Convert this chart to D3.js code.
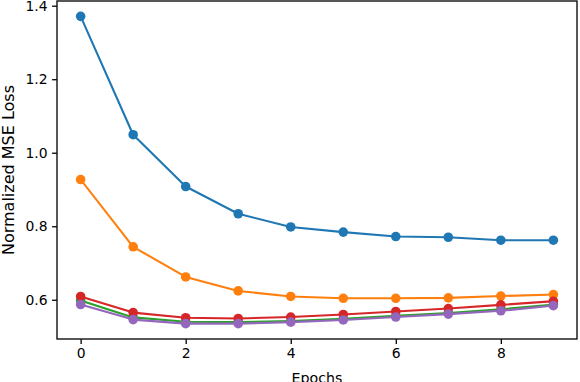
<!DOCTYPE html>
<html>
<head>
<meta charset="utf-8">
<script src="https://cdn.jsdelivr.net/npm/d3@7"></script>
<style>
  body { margin: 0; background: #fff; }
  svg { display: block; font-family: "DejaVu Sans", sans-serif; }
</style>
</head>
<body>
<svg id="chart"></svg>
<script>
// epochs on the x axis
var epochs = [0, 1, 2, 3, 4, 5, 6, 7, 8, 9];

// loss per run
var lossBlue   = [1.371, 1.049, 0.908, 0.834, 0.798, 0.784, 0.772, 0.770, 0.762, 0.762];
var lossOrange = [0.927, 0.744, 0.662, 0.624, 0.609, 0.604, 0.604, 0.605, 0.610, 0.614];
var lossGreen  = [0.598, 0.552, 0.540, 0.539, 0.542, 0.548, 0.556, 0.564, 0.574, 0.587];
var lossRed    = [0.609, 0.565, 0.551, 0.549, 0.553, 0.560, 0.568, 0.576, 0.586, 0.596];
var lossPurple = [0.587, 0.546, 0.535, 0.535, 0.539, 0.545, 0.553, 0.561, 0.570, 0.584];

var xTicks = [0, 2, 4, 6, 8];
var yTicks = [0.6, 0.8, 1.0, 1.2, 1.4];

var series = [
  { values: lossBlue,   color: '#1f77b4' },
  { values: lossOrange, color: '#ff7f0e' },
  { values: lossGreen,  color: '#2ca02c' },
  { values: lossRed,    color: '#d62728' },
  { values: lossPurple, color: '#9467bd' }
];

var width = 580, height = 382;
var margin = { top: 1, right: 3, bottom: 43, left: 57 };

var svg = d3.select('#chart')
  .attr('width', width)
  .attr('height', height);

// matplotlib-like 5% padding around the data
var allVals = [].concat(lossBlue, lossOrange, lossGreen, lossRed, lossPurple);
var yMin = d3.min(allVals), yMax = d3.max(allVals);
var yPad = (yMax - yMin) * 0.05;

var x = d3.scaleLinear()
  .domain([-0.45, 9.45])
  .range([margin.left, width - margin.right]);

var y = d3.scaleLinear()
  .domain([yMin - yPad, yMax + yPad])
  .range([height - margin.bottom, margin.top]);

var line = d3.line()
  .x(function (d, i) { return x(epochs[i]); })
  .y(function (d) { return y(d); });

var plot = svg.append('g');

series.forEach(function (s) {
  var g = plot.append('g');
  g.append('path')
    .attr('d', line(s.values))
    .attr('fill', 'none')
    .attr('stroke', s.color)
    .attr('stroke-width', 2.1)
    .attr('stroke-linejoin', 'round')
    .attr('stroke-linecap', 'square');
  g.selectAll('circle').data(s.values).enter()
    .append('circle')
      .attr('cx', function (d, i) { return x(epochs[i]); })
      .attr('cy', function (d) { return y(d); })
      .attr('r', 4.8)
      .attr('fill', s.color);
});

// axes
var xAxis = d3.axisBottom(x)
  .tickValues(xTicks)
  .tickFormat(d3.format('d'))
  .tickSize(4.9)
  .tickPadding(4);

var yAxis = d3.axisLeft(y)
  .tickValues(yTicks)
  .tickFormat(d3.format('.1f'))
  .tickSize(4.9)
  .tickPadding(4.5);

var gx = svg.append('g')
  .attr('transform', 'translate(0,' + (height - margin.bottom) + ')')
  .call(xAxis);

var gy = svg.append('g')
  .attr('transform', 'translate(' + margin.left + ',0)')
  .call(yAxis);

[gx, gy].forEach(function (g) {
  g.select('.domain').remove();
  g.selectAll('.tick line').attr('stroke', '#000').attr('stroke-width', 1.3);
  g.selectAll('.tick text')
    .attr('fill', '#000')
    .style('font-size', '13.9px')
    .style('font-family', '"DejaVu Sans", sans-serif');
});

// frame
svg.append('rect')
  .attr('x', margin.left)
  .attr('y', margin.top)
  .attr('width', width - margin.right - margin.left)
  .attr('height', height - margin.bottom - margin.top)
  .attr('fill', 'none')
  .attr('stroke', '#111')
  .attr('stroke-width', 1.4);

// labels
svg.append('text')
  .attr('x', (margin.left + width - margin.right) / 2)
  .attr('y', 383)
  .attr('text-anchor', 'middle')
  .style('font-size', '14.2px')
  .text('Epochs');

svg.append('text')
  .attr('transform', 'translate(13.5,' + ((margin.top + height - margin.bottom) / 2) + ') rotate(-90)')
  .attr('text-anchor', 'middle')
  .style('font-size', '16px')
  .text('Normalized MSE Loss');
</script>
</body>
</html>
